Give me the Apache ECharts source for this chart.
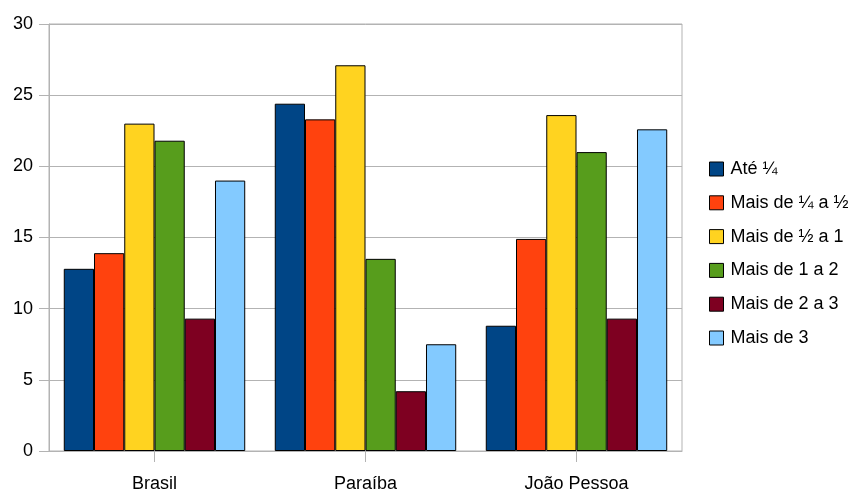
<!DOCTYPE html>
<html>
<head>
<meta charset="utf-8">
<script src="https://cdn.jsdelivr.net/npm/echarts@6/dist/echarts.min.js"></script>
<style>
html,body{margin:0;padding:0;background:#fff;}
#chart{width:848px;height:496px;}
</style>
</head>
<body>
<div id="chart"></div>
<script>
const categories = ["Brasil", "Paraíba", "João Pessoa"];
const seriesNames = ["Até ¼", "Mais de ¼ a ½", "Mais de ½ a 1", "Mais de 1 a 2", "Mais de 2 a 3", "Mais de 3"];
const ate14 = [12.8, 24.4, 8.8];
const de14a12 = [13.9, 23.3, 14.9];
const de12a1 = [23.0, 27.1, 23.6];
const de1a2 = [21.8, 13.5, 21.0];
const de2a3 = [9.3, 4.2, 9.3];
const mais3 = [19.0, 7.5, 22.6];
const yTicks = [0, 5, 10, 15, 20, 25, 30];

const colors = ["#004586", "#ff420e", "#ffd320", "#579d1c", "#7e0021", "#83caff"];
const allData = [ate14, de14a12, de12a1, de1a2, de2a3, mais3];

const chart = echarts.init(document.getElementById('chart'), null, {renderer: 'canvas'});
const font = "'Liberation Sans', Arial, sans-serif";
const fs = 18;
chart.setOption({
  animation: false,
  color: colors,
  grid: {left: 49, right: 166, top: 24, bottom: 45, show: true, borderColor: '#b3b3b3', borderWidth: 1},
  legend: {
    orient: 'vertical', left: 709, top: 160, padding: 0,
    itemWidth: 14, itemHeight: 14, itemGap: 15.8,
    icon: 'rect',
    data: seriesNames,
    itemStyle: {borderColor: '#000', borderWidth: 1},
    textStyle: {fontFamily: font, fontSize: fs, color: '#000', lineHeight: 18, padding: [0, 0, 0, 2]}
  },
  xAxis: {
    type: 'category', data: categories,
    axisLine: {lineStyle: {color: '#b3b3b3'}},
    axisTick: {show: true, alignWithLabel: true, length: 11, lineStyle: {color: '#b3b3b3'}},
    axisLabel: {fontFamily: font, fontSize: fs, color: '#000', margin: 24}
  },
  yAxis: {
    type: 'value', min: yTicks[0], max: yTicks[yTicks.length - 1], interval: 5,
    axisLine: {show: true, lineStyle: {color: '#b3b3b3'}},
    axisTick: {show: true, length: 10, lineStyle: {color: '#b3b3b3'}},
    splitLine: {lineStyle: {color: '#b3b3b3'}},
    axisLabel: {fontFamily: font, fontSize: fs, color: '#000', margin: 16}
  },
  series: seriesNames.map((n, i) => ({
    name: n, type: 'bar', data: allData[i],
    barGap: '0%', barCategoryGap: '14%',
    itemStyle: {color: colors[i], borderColor: '#000', borderWidth: 1}
  }))
});
</script>
</body>
</html>
